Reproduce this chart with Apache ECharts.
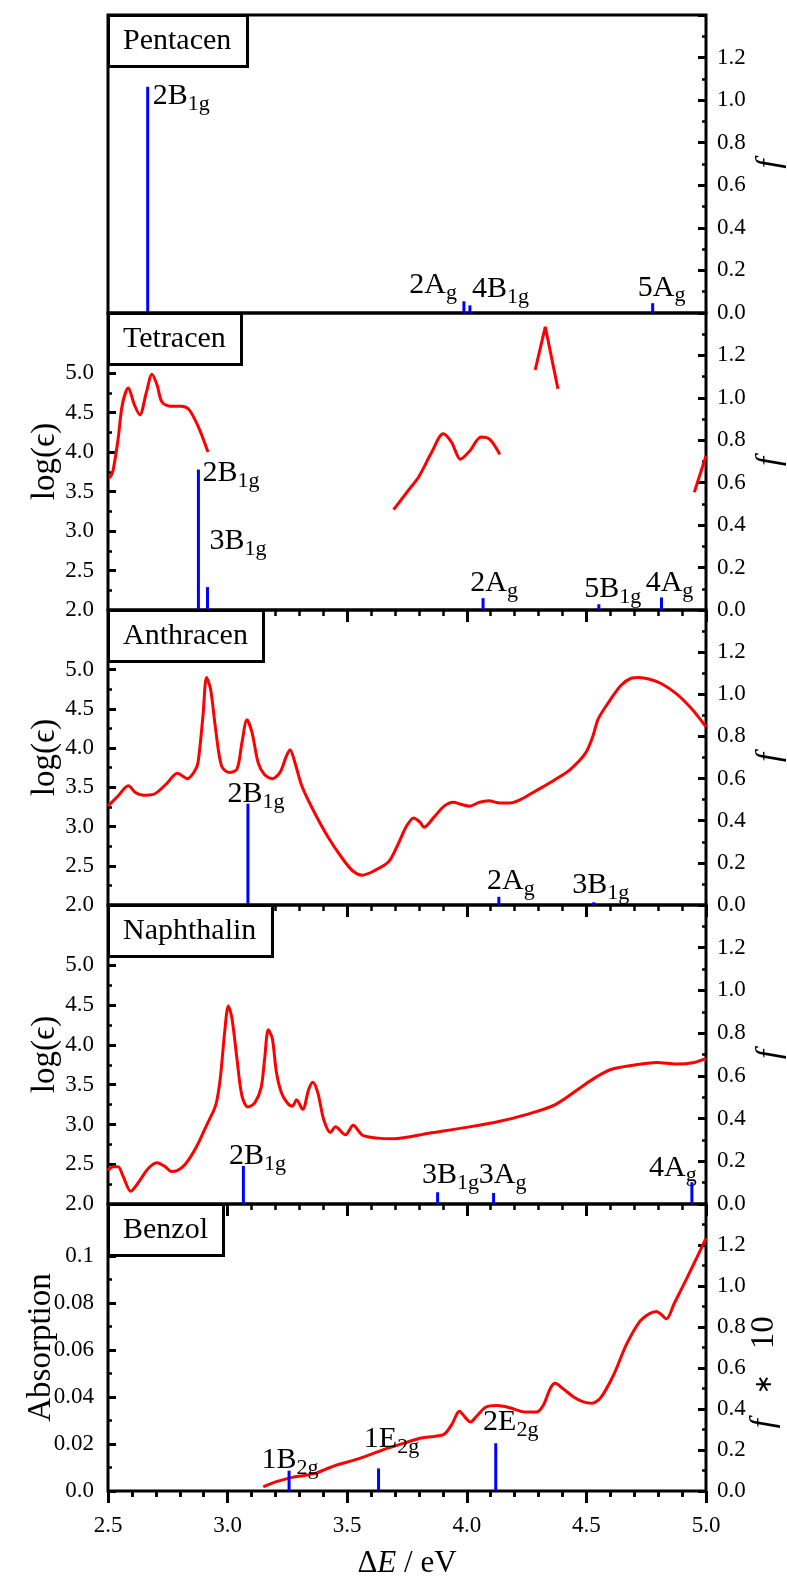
<!DOCTYPE html>
<html>
<head>
<meta charset="utf-8">
<script src="https://cdn.jsdelivr.net/npm/echarts/dist/echarts.min.js"></script>
<style>
  html, body { margin: 0; padding: 0; background: #fff; }
  #chart { width: 787px; height: 1583px; }
</style>
</head>
<body>
<div id="chart"></div>
<script>
// ---- data ----
var panelNames = ['Pentacen', 'Tetracen', 'Anthracen', 'Naphthalin', 'Benzol'];

// calculated transitions: energy (eV), oscillator strength f (Benzol: f*10)
var pentacenE = [2.666, 3.988, 4.013, 4.777];
var pentacenF = [1.063, 0.055, 0.036, 0.046];
var pentacenStates = ['2B_1g', '2A_g', '4B_1g', '5A_g'];

var tetracenE = [2.878, 2.916, 4.068, 4.552, 4.814];
var tetracenF = [0.662, 0.108, 0.056, 0.027, 0.059];
var tetracenStates = ['2B_1g', '3B_1g', '2A_g', '5B_1g', '4A_g'];

var anthracenE = [3.085, 4.134, 4.531];
var anthracenF = [0.481, 0.039, 0.013];
var anthracenStates = ['2B_1g', '2A_g', '3B_1g'];

var naphthalinE = [3.066, 3.878, 4.112, 4.941];
var naphthalinF = [0.178, 0.055, 0.052, 0.102];
var naphthalinStates = ['2B_1g', '3B_1g', '3A_g', '4A_g'];

var benzolE = [3.257, 3.631, 4.121];
var benzolF10 = [0.099, 0.11, 0.233];
var benzolStates = ['1B_2g', '1E_2g', '2E_2g'];

// measured spectra: [energy (eV), log(eps)] / [energy, absorption]
var tetracenSpectrum1 = [[2.506, 3.67], [2.52, 3.75], [2.542, 4.16], [2.56, 4.6], [2.585, 4.81], [2.61, 4.6],
  [2.633, 4.47], [2.66, 4.75], [2.684, 4.985], [2.705, 4.85], [2.726, 4.63], [2.764, 4.58], [2.806, 4.58],
  [2.838, 4.54], [2.876, 4.33], [2.918, 4.0]];
var tetracenSpectrum2 = [[3.694, 3.27], [3.757, 3.52], [3.8, 3.69], [3.852, 3.99], [3.901, 4.23], [3.937, 4.12],
  [3.973, 3.91], [4.011, 4.01], [4.06, 4.19], [4.096, 4.16], [4.138, 3.97]];
var tetracenSpectrum3 = [[4.286, 5.04], [4.328, 5.585], [4.381, 4.8]];
var tetracenSpectrum4 = [[4.951, 3.49], [5.0, 3.95]];

var anthracenSpectrum = [[2.5, 3.26], [2.542, 3.39], [2.585, 3.52], [2.616, 3.43], [2.648, 3.4], [2.69, 3.41],
  [2.743, 3.54], [2.79, 3.68], [2.832, 3.61], [2.859, 3.69], [2.876, 3.81], [2.897, 4.41], [2.912, 4.9],
  [2.929, 4.75], [2.95, 4.24], [2.975, 3.77], [3.007, 3.69], [3.039, 3.73], [3.06, 4.07], [3.081, 4.36],
  [3.102, 4.2], [3.128, 3.81], [3.155, 3.66], [3.187, 3.61], [3.219, 3.69], [3.246, 3.9], [3.261, 3.98],
  [3.282, 3.81], [3.31, 3.52], [3.356, 3.22], [3.419, 2.87], [3.483, 2.58], [3.525, 2.43], [3.563, 2.38],
  [3.609, 2.43], [3.673, 2.55], [3.715, 2.79], [3.747, 3.0], [3.778, 3.11], [3.806, 3.05], [3.821, 2.99],
  [3.863, 3.12], [3.905, 3.26], [3.943, 3.31], [3.979, 3.28], [4.011, 3.26], [4.053, 3.31], [4.091, 3.33],
  [4.138, 3.3], [4.18, 3.3], [4.222, 3.34], [4.286, 3.45], [4.37, 3.6], [4.433, 3.73], [4.497, 3.94],
  [4.528, 4.16], [4.549, 4.37], [4.592, 4.58], [4.645, 4.8], [4.687, 4.89], [4.719, 4.9], [4.761, 4.88],
  [4.814, 4.82], [4.877, 4.69], [4.94, 4.5], [5.0, 4.27]];

var naphthalinSpectrum = [[2.5, 2.42], [2.521, 2.47], [2.542, 2.47], [2.563, 2.35], [2.595, 2.16], [2.627, 2.27],
  [2.669, 2.45], [2.705, 2.52], [2.739, 2.47], [2.764, 2.41], [2.789, 2.42], [2.823, 2.5], [2.87, 2.72],
  [2.912, 2.99], [2.95, 3.24], [2.969, 3.57], [2.988, 4.17], [3.003, 4.49], [3.018, 4.34], [3.039, 3.83],
  [3.06, 3.36], [3.085, 3.22], [3.113, 3.27], [3.14, 3.46], [3.155, 3.83], [3.17, 4.19], [3.187, 4.08],
  [3.204, 3.66], [3.225, 3.4], [3.25, 3.27], [3.271, 3.23], [3.288, 3.31], [3.314, 3.19], [3.339, 3.44],
  [3.356, 3.53], [3.377, 3.4], [3.402, 3.06], [3.43, 2.9], [3.451, 2.97], [3.493, 2.87], [3.525, 2.99],
  [3.567, 2.86], [3.694, 2.82], [3.842, 2.89], [4.011, 2.97], [4.138, 3.04], [4.244, 3.12], [4.37, 3.25],
  [4.497, 3.51], [4.56, 3.63], [4.613, 3.7], [4.708, 3.75], [4.793, 3.78], [4.877, 3.76], [4.951, 3.78],
  [5.0, 3.83]];

var benzolSpectrum = [[3.149, 0.0018], [3.208, 0.0041], [3.271, 0.0058], [3.314, 0.0065], [3.366, 0.0075],
  [3.409, 0.0092], [3.461, 0.0112], [3.525, 0.013], [3.567, 0.0144], [3.652, 0.0176], [3.736, 0.0203],
  [3.81, 0.0225], [3.863, 0.0232], [3.905, 0.0241], [3.937, 0.0282], [3.969, 0.0339], [3.994, 0.0312],
  [4.015, 0.0293], [4.043, 0.032], [4.079, 0.0356], [4.127, 0.0363], [4.18, 0.0354], [4.244, 0.0336],
  [4.292, 0.0336], [4.319, 0.0363], [4.35, 0.0438], [4.37, 0.0458], [4.402, 0.0435], [4.445, 0.0401],
  [4.487, 0.0379], [4.523, 0.0373], [4.56, 0.0397], [4.613, 0.0492], [4.666, 0.062], [4.719, 0.0715],
  [4.761, 0.0752], [4.793, 0.0763], [4.814, 0.0749], [4.835, 0.0732], [4.867, 0.0797], [4.92, 0.0905],
  [4.962, 0.0993], [5.0, 0.1075]];

// ---- layout / style ----
var FONT = 'Liberation Serif';
var gridTops = [15, 313, 610, 905, 1204];
var gridHeights = [298, 297, 295, 299, 287];

// label placement per stick: [dx, dy, align, verticalAlign] relative to stick top
var pentacenPlace = [[5, -6, 'left', 'top'], [-7, -1, 'right', 'bottom'], [2, -1, 'left', 'bottom'], [9, 0, 'center', 'bottom']];
var tetracenPlace = [[4, 4, 'left', 'middle'], [2, -30, 'left', 'bottom'], [11, 1, 'center', 'bottom'], [14, 0, 'center', 'bottom'], [8, 1, 'center', 'bottom']];
var anthracenPlace = [[8, 6, 'center', 'bottom'], [12, 0, 'center', 'bottom'], [7, -2, 'center', 'bottom']];
var naphthalinPlace = [[14, 6, 'center', 'bottom'], [13, -2, 'center', 'bottom'], [9, -2, 'center', 'bottom'], [-19, 1, 'center', 'bottom']];
var benzolPlace = [[1, 5, 'center', 'bottom'], [13, -14, 'center', 'bottom'], [15, -6, 'center', 'bottom']];

var stickSets = [
  { E: pentacenE, f: pentacenF, states: pentacenStates, place: pentacenPlace },
  { E: tetracenE, f: tetracenF, states: tetracenStates, place: tetracenPlace },
  { E: anthracenE, f: anthracenF, states: anthracenStates, place: anthracenPlace },
  { E: naphthalinE, f: naphthalinF, states: naphthalinStates, place: naphthalinPlace },
  { E: benzolE, f: benzolF10, states: benzolStates, place: benzolPlace }
];
// segments of the measured curves, with smoothing per segment
var spectra = [
  [],
  [[tetracenSpectrum1, 0.3], [tetracenSpectrum2, 0.3], [tetracenSpectrum3, false], [tetracenSpectrum4, false]],
  [[anthracenSpectrum, 0.3]],
  [[naphthalinSpectrum, 0.3]],
  [[benzolSpectrum, 0.3]]
];

var labelRich = {
  m: { fontFamily: FONT, fontSize: 30, lineHeight: 31, fill: '#000' },
  s: { fontFamily: FONT, fontSize: 22, lineHeight: 22, padding: [16, 0, 0, 0], fill: '#000' }
};

function stateText(s) {
  var p = s.split('_');
  return '{m|' + p[0] + '}{s|' + p[1] + '}';
}

var tickStyle = { color: '#000', width: 3 };
var minorStyle = { color: '#000', width: 2.5 };
var labelStyle = { fontFamily: FONT, fontSize: 23, color: '#000' };
var nameStyle = { fontFamily: FONT, fontSize: 33, color: '#000' };

var grids = [], xAxes = [], yAxes = [], titles = [], series = [];

for (var i = 0; i < 5; i++) {
  grids.push({
    left: 108, right: 81, top: gridTops[i], height: gridHeights[i],
    outerBoundsMode: 'none', containLabel: false,
    show: true, borderColor: '#000', borderWidth: 3, backgroundColor: 'transparent'
  });
  xAxes.push({
    gridIndex: i, type: 'value', min: 2.5, max: 5, interval: 0.5, position: 'top',
    axisLine: { show: false }, axisLabel: { show: false }, splitLine: { show: false },
    axisTick: { show: i > 0, inside: true, length: 12, lineStyle: tickStyle },
    minorTick: { show: i > 0, splitNumber: 5, length: 6, lineStyle: minorStyle }
  });
  titles.push({
    text: panelNames[i], left: 108, top: gridTops[i],
    padding: [10, 16, 10, 15], borderWidth: 3, borderColor: '#000', backgroundColor: '#fff',
    textStyle: { fontFamily: FONT, fontSize: 30, fontWeight: 'normal', color: '#000', lineHeight: 32 }
  });
}

// left axes
for (var i = 0; i < 5; i++) {
  if (i === 0) {
    yAxes.push({ gridIndex: 0, type: 'value', min: 2, max: 5.76, show: false });
  } else if (i < 4) {
    yAxes.push({
      gridIndex: i, type: 'value', position: 'left', min: 2, max: 5.76, interval: 0.5,
      axisLine: { show: false }, splitLine: { show: false },
      axisTick: { inside: true, length: 8, lineStyle: tickStyle },
      minorTick: { show: true, splitNumber: 2, length: 4, lineStyle: minorStyle },
      axisLabel: Object.assign({ margin: 14, formatter: function (v) { return v > 5.01 ? '' : v.toFixed(1); } }, labelStyle),
      name: 'log(ϵ)', nameLocation: 'middle', nameGap: 46, nameRotate: 90, nameMoveOverlap: false,
      nameTextStyle: nameStyle
    });
  } else {
    yAxes.push({
      gridIndex: 4, type: 'value', position: 'left', min: 0, max: 0.122, interval: 0.02,
      axisLine: { show: false }, splitLine: { show: false },
      axisTick: { inside: true, length: 8, lineStyle: tickStyle },
      minorTick: { show: true, splitNumber: 2, length: 4, lineStyle: minorStyle },
      axisLabel: Object.assign({ margin: 14, formatter: function (v) {
        if (v > 0.105) return '';
        return v === 0 ? '0.0' : String(+v.toFixed(2));
      } }, labelStyle),
      name: 'Absorption', nameLocation: 'middle', nameGap: 50, nameRotate: 90, nameMoveOverlap: false,
      nameTextStyle: nameStyle
    });
  }
}
// right f axes
var nb = '\u00a0';
function spaces(n) { return new Array(n + 1).join(nb); }
for (var i = 0; i < 5; i++) {
  yAxes.push({
    gridIndex: i, type: 'value', position: 'right', min: 0, max: 1.4, interval: 0.2,
    axisLine: { show: false }, splitLine: { show: false },
    axisTick: { inside: true, length: 8, lineStyle: tickStyle },
    minorTick: { show: true, splitNumber: 2, length: 4, lineStyle: minorStyle },
    axisLabel: Object.assign({ margin: 11, formatter: function (v) { return v > 1.25 ? '' : v.toFixed(1); } }, labelStyle),
    name: i === 4 ? '{i|f}' + spaces(3) + '{a|∗}' + spaces(3) + '10' + spaces(6) : 'f',
    nameLocation: 'middle', nameGap: i === 4 ? 42 : 48, nameRotate: 90, nameMoveOverlap: false,
    nameTextStyle: i === 4
      ? Object.assign({ rich: {
          i: { fontFamily: FONT, fontSize: 33, fontStyle: 'italic', color: '#000' },
          a: { fontFamily: 'DejaVu Sans', fontSize: 24, color: '#000' }
        } }, nameStyle)
      : Object.assign({ fontStyle: 'italic' }, nameStyle)
  });
}
// bottom axis with labels
xAxes.push({
  gridIndex: 4, type: 'value', min: 2.5, max: 5, interval: 0.5, position: 'bottom',
  axisLine: { show: false }, splitLine: { show: false },
  axisTick: { inside: false, length: 12, lineStyle: tickStyle },
  minorTick: { show: true, splitNumber: 5, length: 6, lineStyle: minorStyle },
  axisLabel: Object.assign({ margin: 23, formatter: function (v) { return v.toFixed(1); } }, labelStyle),
  name: '{n|Δ}{i|E}{n| / eV}', nameLocation: 'middle', nameGap: 57, nameMoveOverlap: false,
  nameTextStyle: {
    rich: {
      n: { fontFamily: FONT, fontSize: 31, color: '#000' },
      i: { fontFamily: FONT, fontSize: 31, fontStyle: 'italic', color: '#000' }
    }
  }
});

// series
for (var i = 0; i < 5; i++) {
  spectra[i].forEach(function (seg) {
    series.push({
      type: 'line', xAxisIndex: i, yAxisIndex: i, data: seg[0],
      showSymbol: false, smooth: seg[1], z: 3,
      lineStyle: { color: '#ff0000', width: 3 }
    });
  });
  (function (set) {
    series.push({
      type: 'custom', xAxisIndex: i, yAxisIndex: 5 + i, z: 4, clip: false,
      data: set.E.map(function (e, k) { return [e, set.f[k], k]; }),
      renderItem: function (params, api) {
        var k = api.value(2);
        var base = api.coord([api.value(0), 0]);
        var top = api.coord([api.value(0), api.value(1)]);
        var pl = set.place[k];
        return {
          type: 'group',
          children: [
            { type: 'line', shape: { x1: base[0], y1: base[1], x2: top[0], y2: top[1] },
              style: { stroke: '#0000ff', lineWidth: 3 } },
            { type: 'text', x: top[0] + pl[0], y: top[1] + pl[1],
              style: { text: stateText(set.states[k]), rich: labelRich, align: pl[2], verticalAlign: pl[3],
                fill: '#000', fontFamily: FONT, fontSize: 30 } }
          ]
        };
      }
    });
  })(stickSets[i]);
}

var chart = echarts.init(document.getElementById('chart'));
chart.setOption({
  animation: false,
  backgroundColor: '#fff',
  title: titles,
  grid: grids,
  xAxis: xAxes,
  yAxis: yAxes,
  series: series
});
</script>
</body>
</html>
